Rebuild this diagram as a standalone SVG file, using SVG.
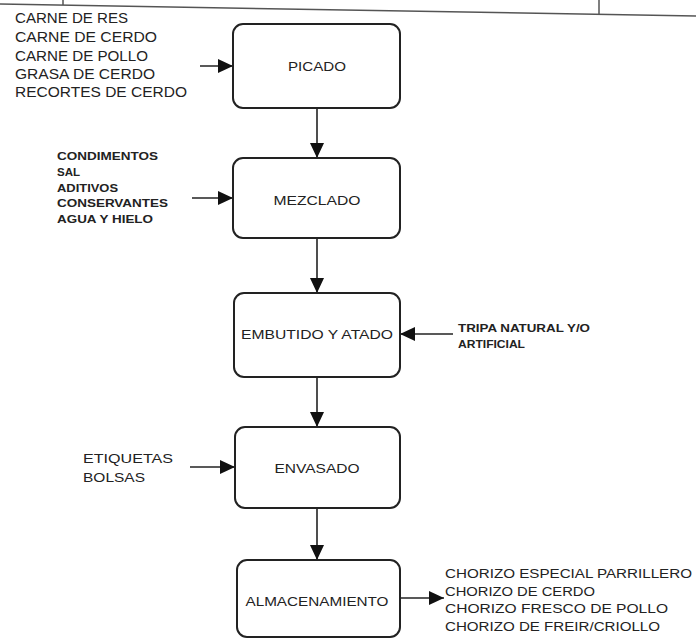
<svg xmlns="http://www.w3.org/2000/svg" width="696" height="640" viewBox="0 0 696 640">
<style>
.box{fill:#fff;stroke:#222;stroke-width:2}
.lbl{font-family:"Liberation Sans",Arial,sans-serif;font-size:13px;fill:#222;text-anchor:middle}
.in{font-family:"Liberation Sans",Arial,sans-serif;font-size:14px;fill:#222}
.sm{font-family:"Liberation Sans",Arial,sans-serif;font-size:11px;font-weight:bold;fill:#222}
.md{font-family:"Liberation Sans",Arial,sans-serif;font-size:13px;fill:#222}
.out{font-family:"Liberation Sans",Arial,sans-serif;font-size:12px;fill:#222}
.con{stroke:#222;stroke-width:1.6;fill:none;marker-end:url(#ah)}
.frame{stroke:#555;stroke-width:1.5;fill:none}
</style>
<defs>
<marker id="ah" markerUnits="userSpaceOnUse" markerWidth="16" markerHeight="14" refX="15" refY="7" orient="auto">
<path d="M0,0 L15,7 L0,14 Z" fill="#111"/>
</marker>
</defs>
<rect width="696" height="640" fill="#fff"/>
<g id="frame">
<path class="frame" d="M0,4 L696,16"/>
<path class="frame" d="M63,0 L63,5"/>
<path class="frame" d="M599,0 L599,15"/>
</g>
<g id="connectors">
<path class="con" d="M317,108 L317,158"/>
<path class="con" d="M317,238 L317,293"/>
<path class="con" d="M317,377 L317,427"/>
<path class="con" d="M317,508 L317,560"/>
<path class="con" d="M200,66 L233,66"/>
<path class="con" d="M192,198 L233,198"/>
<path class="con" d="M453,334 L400,334"/>
<path class="con" d="M190,467 L235,467"/>
<path class="con" d="M400,598 L444,598"/>
</g>
<g id="picado">
<rect class="box" x="233" y="24" width="167" height="84" rx="10"/>
<text class="lbl" x="317" y="71" textLength="58" lengthAdjust="spacingAndGlyphs">PICADO</text>
</g>
<g id="mezclado">
<rect class="box" x="233" y="158" width="167" height="80" rx="10"/>
<text class="lbl" x="317" y="205" textLength="87" lengthAdjust="spacingAndGlyphs">MEZCLADO</text>
</g>
<g id="embutido">
<rect class="box" x="234" y="293" width="166" height="84" rx="10"/>
<text class="lbl" x="317" y="339" textLength="152" lengthAdjust="spacingAndGlyphs">EMBUTIDO Y ATADO</text>
</g>
<g id="envasado">
<rect class="box" x="235" y="427" width="165" height="81" rx="10"/>
<text class="lbl" x="317" y="473" textLength="85" lengthAdjust="spacingAndGlyphs">ENVASADO</text>
</g>
<g id="almacenamiento">
<rect class="box" x="237" y="560" width="163" height="77" rx="10"/>
<text class="lbl" x="317" y="606" textLength="143" lengthAdjust="spacingAndGlyphs">ALMACENAMIENTO</text>
</g>
<g id="inputs-picado">
<text class="in" x="15" y="23" textLength="113" lengthAdjust="spacingAndGlyphs">CARNE DE RES</text>
<text class="in" x="15" y="42" textLength="142" lengthAdjust="spacingAndGlyphs">CARNE DE CERDO</text>
<text class="in" x="15" y="61" textLength="133" lengthAdjust="spacingAndGlyphs">CARNE DE POLLO</text>
<text class="in" x="15" y="79" textLength="140" lengthAdjust="spacingAndGlyphs">GRASA DE CERDO</text>
<text class="in" x="15" y="97" textLength="172" lengthAdjust="spacingAndGlyphs">RECORTES DE CERDO</text>
</g>
<g id="inputs-mezclado">
<text class="sm" x="57" y="160" textLength="101" lengthAdjust="spacingAndGlyphs">CONDIMENTOS</text>
<text class="sm" x="57" y="176" textLength="23" lengthAdjust="spacingAndGlyphs">SAL</text>
<text class="sm" x="57" y="192" textLength="61" lengthAdjust="spacingAndGlyphs">ADITIVOS</text>
<text class="sm" x="57" y="207" textLength="111" lengthAdjust="spacingAndGlyphs">CONSERVANTES</text>
<text class="sm" x="57" y="223" textLength="96" lengthAdjust="spacingAndGlyphs">AGUA Y HIELO</text>
</g>
<g id="inputs-embutido">
<text class="sm" x="458" y="332" textLength="132" lengthAdjust="spacingAndGlyphs">TRIPA NATURAL Y/O</text>
<text class="sm" x="458" y="348" textLength="67" lengthAdjust="spacingAndGlyphs">ARTIFICIAL</text>
</g>
<g id="inputs-envasado">
<text class="md" x="83" y="463" textLength="90" lengthAdjust="spacingAndGlyphs">ETIQUETAS</text>
<text class="md" x="83" y="482" textLength="62" lengthAdjust="spacingAndGlyphs">BOLSAS</text>
</g>
<g id="outputs">
<text class="out" x="445" y="578" textLength="247" lengthAdjust="spacingAndGlyphs">CHORIZO ESPECIAL PARRILLERO</text>
<text class="out" x="445" y="596" textLength="150" lengthAdjust="spacingAndGlyphs">CHORIZO DE CERDO</text>
<text class="out" x="445" y="613" textLength="223" lengthAdjust="spacingAndGlyphs">CHORIZO FRESCO DE POLLO</text>
<text class="out" x="445" y="631" textLength="215" lengthAdjust="spacingAndGlyphs">CHORIZO DE FREIR/CRIOLLO</text>
</g>
</svg>
